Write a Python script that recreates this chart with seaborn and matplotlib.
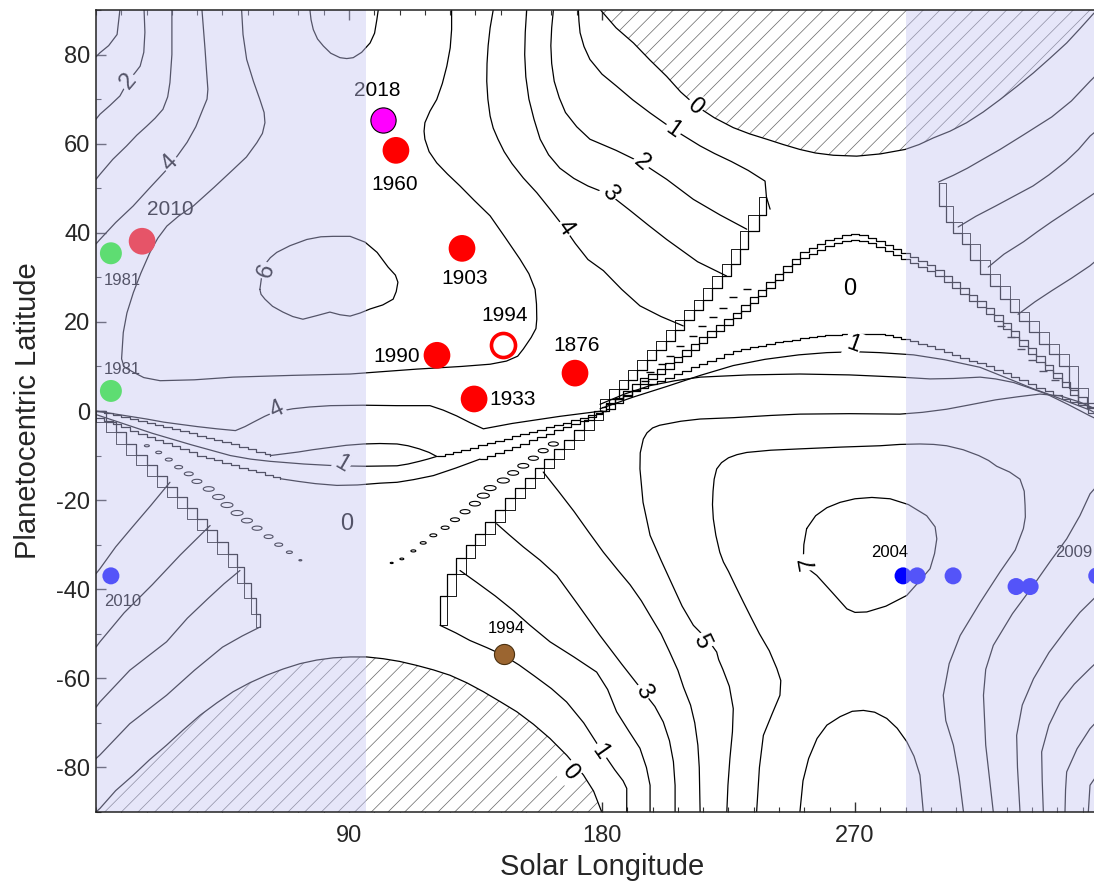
import numpy as np
import pandas as pd
import matplotlib
matplotlib.use("Agg")
import matplotlib.pyplot as plt
from matplotlib.path import Path
import seaborn as sns

# ------------------------------------------------------------------ data
X_TICKS = [90, 180, 270]
Y_TICKS = [-80, -60, -40, -20, 0, 20, 40, 60, 80]
X_LABEL = "Solar Longitude"
Y_LABEL = "Planetocentric Latitude"
SHADE_FROM = [0, 288]
SHADE_TO = [96, 360]

# hatched (no sunlight) regions
NIGHT_N_LS = [179.5, 185, 191.2, 197, 203, 208, 213.7, 220, 226.7, 232.5, 238.6, 244.5, 250.4, 256, 262.3, 270.6,
              279, 287.8, 292.8, 297.9, 303.8, 309.7, 315.6, 321.6, 327.5, 333.5, 339.4, 345.3, 350, 355, 360]
NIGHT_N_LAT = [90, 86, 82.6, 78.8, 75.1, 71.6, 68.4, 65.8, 63.6, 62.2, 61, 59.8, 58.7, 57.9, 57.4, 57.2,
               57.7, 58.7, 59.8, 61.3, 62.8, 64.7, 67.1, 69.9, 72.8, 75.9, 79.2, 82.6, 85.8, 89.3, 90]
NIGHT_S_LS = [0, 1.4, 7, 13.3, 19, 25.1, 31, 37, 43, 48.8, 54.7, 60.7, 66.6, 72.6, 78.5, 84.4, 90.4, 96.3,
              102.2, 108, 114.1, 120, 125.9, 131.9, 137.8, 143.7, 149.7, 155.6, 161.5, 167.5, 173.4, 177, 179.9]
NIGHT_S_LAT = [-90, -89.2, -85.2, -81.7, -78.3, -75, -71.6, -68.3, -65.5, -63, -61, -59.3, -57.9, -56.7, -55.9,
               -55.4, -55.2, -55.2, -55.6, -56.2, -57.1, -58.1, -59.3, -61, -63, -65.2, -67.5, -70.3, -73.5,
               -77.3, -81.7, -85.3, -90]

# contour lines (Ls, latitude)
C1_TL_LS = [0, 1.4, 4.5, 7.5, 8.5]
C1_TL_LAT = [79.5, 80.4, 82, 84.5, 90]
C2_TL_LS = [0, 1.4, 5, 8.5, 11.4, 14, 15.7, 17, 17.4, 17.1]
C2_TL_LAT = [65.5, 66.6, 68.6, 70.7, 74, 76, 77.4, 80.5, 85, 90]
C3_TL_LS = [0, 1.4, 6, 10.9, 14.5, 18, 21, 23.8, 25.5, 26.3, 27, 27]
C3_TL_LAT = [52, 53.1, 56.5, 59.5, 61.9, 63.9, 65.7, 67.7, 70.5, 73.7, 80, 90]
C4_TL_LS = [0, 1.4, 7, 13.2, 19, 25.2, 29, 32.4, 35.5, 38, 39.5, 39.8, 39.3, 38.8, 37.7]
C4_TL_LAT = [37.5, 38.5, 42.3, 46, 50, 54.2, 57.3, 60.3, 63.8, 67.7, 70, 72.2, 76.5, 81.1, 90]
C5_LS = [51.8, 52.3, 53.6, 56, 58.3, 59.8, 60.1, 59.2, 57.2, 53.5, 48.8, 42, 34.6, 29.5, 25.2, 22, 19.2, 16, 13.3,
         11, 9.7, 9.1, 10, 13.3, 17, 22.8, 35, 48.8, 70, 90.4,
         114.1, 130, 140.2, 146, 150, 152, 154.8, 156.5, 156.8, 156.7, 156.2, 154, 150.8, 145.5, 140.2, 134.5,
         129.5, 125, 121.2, 118.5, 117, 116.7, 117, 118.8, 121.2, 123.2, 124.8, 126, 126.5, 126.5]
C5_LAT = [90, 84.5, 78.9, 74, 69.9, 67, 64.7, 62.3, 60.2, 57, 54.2, 50.2, 46, 43.8, 41.5, 38.8, 35.6, 31, 26.6,
          22, 17.6, 11.7, 9.9, 8.7, 7.5, 6.8, 7, 7.6, 8, 8.3,
          9.4, 10, 10.5, 11.2, 12.3, 13.9, 16.5, 18.5, 20.6, 24, 27.3, 30.8, 34.1, 39, 43.8, 47.3,
          50.5, 53.2, 55.7, 58.2, 61, 62.8, 64.7, 67.3, 69.9, 73.5, 77.4, 81.5, 85.6, 90]
C6_LOOP_LS = [58.3, 59, 60.1, 62, 64.3, 69, 75, 80, 84.3, 90.4, 95.7, 100, 103.9, 106.5, 107.4, 106.8, 105.7,
              102, 97.5, 94, 90.4, 86.8, 83.2, 78.5, 73.6, 70, 66.5, 62.8, 60.1, 58.7, 58.3]
C6_LOOP_LAT = [27.3, 30.5, 32.9, 34.4, 35.6, 37.1, 38.5, 39.1, 39.2, 39.2, 37.9, 35.6, 32.3, 30.5, 28.9, 26.8,
               25.1, 23.8, 22.9, 22, 21.3, 21.6, 22.2, 21.4, 20.6, 21.2, 22.2, 23.5, 25.1, 26.2, 27.3]
CTOP_LS = [76.1, 76.5, 77.3, 78.8, 80.9, 83.5, 86.8, 89.2, 91.5, 94.5, 97.5, 99.1, 99.9, 100.4]
CTOP_LAT = [90, 87.8, 85.6, 83.5, 81.9, 80.3, 79.3, 79.1, 79.3, 80.5, 82.6, 84.8, 87.8, 90]
C1_TR_LS = [171.6, 171.8, 172.2, 173.6, 175.7, 180, 185.2, 191, 197.1, 205.4, 214.9, 220, 226, 232, 238, 238.5, 239.8]
C1_TR_LAT = [90, 87.5, 84.9, 81.8, 78.9, 75.6, 72.9, 69.8, 66.9, 63.2, 59.5, 57.8, 56, 54, 51.6, 48, 45.3]
C2_TR_LS = [162.7, 162.1, 161.8, 162.1, 163, 164.8, 167, 171, 175.7, 185, 194.1, 203, 212.5, 222, 231.5]
C2_TR_LAT = [90, 86, 82, 78, 74, 70.3, 67, 63.8, 61, 58.5, 55.7, 52, 47.5, 44, 40.8]
C3_TR_LS = [153.2, 152.7, 152.5, 152.9, 154, 155.8, 158, 161, 165, 170, 175, 182.9, 190, 196.5, 203, 214, 224.3]
C3_TR_LAT = [90, 85, 80, 75, 70, 65.5, 61, 57.5, 54.5, 52.2, 50.5, 48.5, 45, 41.7, 38.5, 33.5, 30.3]
C4_TR_LS = [141.3, 140.2, 139.5, 139.1, 139, 139.4, 140.2, 141.3, 143, 145.2, 148, 152, 156.8, 161.5, 166.2,
            170.5, 175, 180.5, 187, 193.5, 201, 208.9]
C4_TR_LAT = [90, 86, 82, 78, 74, 70, 66.2, 63.5, 61, 58.2, 55.5, 52.3, 49, 45.3, 41.5, 37.6, 34, 31.5, 27.3,
             23.6, 21.2, 19.1]
A_R_LS = [299.7, 305, 310, 315.5, 321.6, 330, 340, 347, 353.6, 360]
A_R_LAT = [51.4, 52.9, 54.5, 56.5, 58.7, 62, 66, 69.6, 74, 78]
B_R_LS = [306.7, 313, 320, 326.5, 333.3, 339, 345, 349.5, 353.6, 360]
B_R_LAT = [41.3, 43.7, 46, 48.2, 50.5, 53, 56, 58.7, 61.7, 65]
C_R_LS = [317.4, 323, 330, 335, 340, 346, 353.6, 360]
C_R_LAT = [32.3, 35.2, 38, 40.3, 42.5, 45, 48.2, 51]
D_R_LS = [328, 334, 340, 347, 353.6, 360]
D_R_LAT = [21.7, 24.5, 27, 29.8, 32.6, 36]
L1_LS = [0, 1.4, 7, 13, 19.5, 26.3]
L1_LAT = [-36.5, -35.4, -30.5, -26, -21.2, -16]
L2_LS = [0, 1.4, 10, 20, 30, 40.6]
L2_LAT = [-53, -51.8, -45.3, -39, -32.3, -25.7]
L3_LS = [0, 1.4, 12, 25.1, 32.5, 40, 45.5, 51.2]
L3_LAT = [-66.5, -65.3, -58.2, -51.8, -46.5, -42, -38.8, -35.8]
L4_LS = [0, 1.4, 12, 25.1, 35, 45, 52, 58.3]
L4_LAT = [-78, -77.2, -70.2, -63.8, -58.2, -53, -50.5, -48.5]
C1_B_LS = [122.4, 128, 133, 139, 144.9, 150.5, 156, 162, 167.4, 173.5, 179.3, 184.5, 187.5, 188.8, 188.8]
C1_B_LAT = [-48.1, -49.8, -51.5, -53.1, -54.8, -57, -59.5, -62.3, -65.3, -70, -75.7, -80.5, -83, -84.7, -90]
C2_B_LS = [129.5, 135.5, 142, 148.5, 154.4, 161.5, 170, 178.1, 182, 185.2, 189.5, 193.5, 195.8, 197.1, 197.1]
C2_B_LAT = [-35.8, -38.5, -41.5, -44.8, -48.1, -51.8, -55.2, -58.6, -62.5, -67.5, -71.8, -75.7, -80, -84, -90]
C3_B_LS = [142.5, 147, 152, 158, 163.9, 171.5, 179.3, 187, 194.7, 198.8, 201.8, 204, 205.4, 206, 206]
C3_B_LAT = [-25.3, -27.8, -30.5, -33.5, -36.9, -43.5, -50.4, -56.8, -63, -66.3, -69.8, -74, -78.7, -84, -90]
C4_B_LS = [159.1, 164.5, 170, 175.3, 180.5, 185.5, 190, 194, 197.1, 201, 204, 207, 209, 211.5, 213, 214.1, 214.6, 214.9]
C4_B_LAT = [-13.7, -18, -22.5, -27.2, -31.7, -35.6, -39, -42.6, -45.9, -50, -54, -58.2, -62, -66, -70, -75, -80, -90]
C5_B_LS = [224.4, 224.8, 225.5, 226.4, 226.7, 225.3, 223, 221.5, 220.8, 219, 217.3, 215, 212.5, 208.5, 205,
           201, 197.1, 194.6, 193.5, 193.6, 194.7, 196, 198, 200.5, 203, 208, 214.9,
           226.7, 240, 250.4, 268, 286, 294, 302.6, 311, 320, 328, 335.8, 343, 350, 355, 360]
C5_B_LAT = [-90, -84, -78, -72, -66.8, -61.8, -58, -55.8, -54.1, -52.5, -51.1, -49.7, -48.1, -43.8, -39,
            -33.5, -27.9, -20.5, -13, -9.4, -6.3, -4.9, -3.8, -3.2, -2.9, -2.3, -1.8,
            -1.5, -1.0, -0.7, -0.6, -0.7, -0.3, 0.4, 1.4, 2.5, 3.2, 3.8, 3.4, 2, 0.6, -1.5]
C6_B_LS = [235, 236, 237.4, 240.5, 243.3, 243.6, 242.2, 239.5, 236, 233, 230.3, 227.5, 225, 223.2, 221.9,
           220.5, 219.6, 219.3, 219.5, 219.9, 220.8, 222.5, 225, 228, 231.5, 240, 250.4, 265,
           278.9, 286, 293.1, 298, 302.6, 308.5, 314, 317.5, 320.4, 325, 328.7, 330.2, 330.5, 330.6, 329.9,
           327, 321.6, 314.5, 307.4, 303.5, 301.4, 302.3, 305, 307, 308.6]
C6_B_LAT = [-90, -80, -72.8, -68, -63.8, -60.5, -57.8, -53.8, -50, -46.3, -42.9, -39.3, -36, -33.9, -31.7,
            -27.9, -24.2, -21, -18, -15.3, -13, -11.6, -10.5, -9.8, -9.3, -8.8, -8.5, -8.1,
            -7.8, -7.5, -7.4, -7.5, -7.8, -8.7, -10, -11.1, -12.4, -13.7, -15.3, -18, -21.2, -23.8, -26.4,
            -31.2, -36.1, -43, -50.4, -56.7, -63.8, -69.5, -75, -82, -90]
C7_LOOP_LS = [252.8, 256, 260, 264.7, 270, 276, 282.5, 289, 295.5, 298.5, 299.1, 298.3, 296.7, 292.5, 288.4,
              281, 274.2, 270, 267.1, 262, 256.4, 253.5, 251.6, 251.8, 252.8]
C7_LOOP_LAT = [-26.4, -23.5, -21.7, -20.5, -19.7, -19.4, -19.7, -21, -23.5, -26, -28.7, -32, -35.4, -38.5, -41.4,
               -43.8, -45.1, -45.2, -44.4, -40.8, -36.9, -35.5, -33.9, -30, -26.4]
C7_DOME_LS = [250.4, 251.5, 253.5, 256.5, 260, 264.7, 269, 273, 277, 281.3, 285, 288.4, 291, 293.1, 294.3]
C7_DOME_LAT = [-90, -83, -78, -73.5, -70.5, -68.6, -67.4, -67.2, -67.6, -69, -71.2, -74.2, -77.5, -81.7, -90]
R1_LS = [319.2, 316.5, 315.7, 316.5, 319.2, 326, 333.5, 339.5, 345.3, 350, 353.6, 360]
R1_LAT = [-90, -75, -63.8, -58, -52.6, -45.5, -39.1, -33.7, -28.7, -23.5, -18.6, -14]
R2_LS = [328.7, 327.8, 327.5, 329.5, 333.5, 339, 345.3, 350, 355, 360]
R2_LAT = [-90, -80, -72.8, -66, -60.1, -54.2, -48.9, -45.2, -42.1, -39]
R3_LS = [337, 336.6, 336.4, 339, 343, 348, 353.6, 360]
R3_LAT = [-90, -83, -76.5, -70.5, -65.3, -61.3, -57.8, -54]
R4_LS = [344.7, 344.9, 345.3, 349, 353.6, 360]
R4_LAT = [-90, -85, -81, -75.8, -71.3, -67]
R5_LS = [353, 353.6, 356, 358, 360]
R5_LAT = [-90, -84, -81.8, -80, -78.5]
C4_EQ_LS = [0, 6, 12, 18, 24.1, 30, 36, 43, 49.6, 53, 56, 60, 63.2, 70, 76, 83.4, 95, 107.1, 118.8, 123.5,
            128.3, 133, 137.8, 148, 165, 180]
C4_EQ_LAT = [0, -0.6, -1.2, -1.8, -2.5, -3, -3.5, -4, -4.4, -3.5, -2.5, -1.2, -0.3, 0.5, 0.9, 1.2, 1.3, 1.2,
             1.2, 0.2, -1.1, -2.6, -4, -2.8, -1.2, 0]
S1_SMOOTH_LS = [62, 67, 72, 77, 83, 89, 95.2, 101, 107.1, 111, 115, 118.5, 121.2]
S1_SMOOTH_LAT = [-10, -9.6, -9.2, -8.7, -8.2, -7.7, -7.4, -7.3, -7.4, -7.8, -8.5, -9.3, -10.2]
S2_LS = [0, 10, 20, 34, 47.8, 55, 62, 74, 85.7, 96, 107.1, 111, 115, 118, 121.2]
S2_LAT = [-0.8, -2.9, -5, -7.6, -10, -10.8, -11.3, -11.9, -12.3, -12.4, -12.3, -11.9, -11.3, -10.8, -10.2]
S3_SMOOTH_LS = [65.6, 72, 78, 85.7, 93, 101, 107.1, 113, 120, 128, 136.6]
S3_SMOOTH_LAT = [-15.2, -15.8, -16.3, -16.7, -16.6, -16.2, -16, -15.4, -14.5, -12.8, -10.8]
U1B_LS = [179.3, 191, 203, 215, 226.7, 238, 250, 260, 270, 278.9, 290.8, 302, 314.5, 326.4, 333, 340, 347, 353.6, 360]
U1B_LAT = [0.5, 3.1, 5.5, 8, 10.2, 11.6, 12.6, 13.1, 13.3, 13.1, 12.6, 11.5, 9.8, 6.8, 5.1, 3.5, 1.8, 0.2, -2]
U2_LS = [179.3, 188, 197.1, 206, 214.9, 232, 250.4, 268, 286, 296.7, 305, 314.5, 320, 326.4, 332, 338.2, 346, 353.6, 360]
U2_LAT = [1.5, 3.8, 5.7, 6.8, 7.6, 8.1, 8.3, 8.1, 7.6, 7.2, 7.3, 7.6, 7.2, 6.4, 5.2, 3.8, 1.4, -1.1, -3]

# stair-stepped contour segments (ring shadow edges)
ST_L_LS = [0, 3.6, 7.2, 10.8, 14.4, 18, 21.6, 25.2, 28.8, 32.4, 36, 39.6, 43.2, 46.8, 50, 52.5, 55, 57, 58.5]
ST_L_LAT = [0, -2.4, -4.8, -7.3, -9.8, -12.2, -14.6, -17, -19.4, -21.8, -24.3, -26.8, -29.3, -32, -35, -38.5, -42, -45.5, -48.5]
ST_M_LS = [180.5, 177, 173.5, 170, 166.5, 163, 159.5, 156, 152.5, 149, 145.5, 142, 138.5, 135, 131.5, 128, 125, 122.4]
ST_M_LAT = [0, -2, -4.2, -6.4, -8.6, -10.7, -12.8, -15, -17.2, -19.6, -22.2, -25, -27.5, -30, -33, -36.5, -41.5, -48]
ST_U_LS = [179.3, 182.6, 186, 189.3, 192.6, 196, 199.3, 202.6, 206, 209.3, 212.6, 216, 219.3, 222.6, 226, 229, 232, 236, 238.5]
ST_U_LAT = [0, 2.6, 4.9, 7, 9.2, 11.5, 13.7, 15.8, 18.2, 20.5, 22.6, 25, 27.5, 30.2, 33, 36.3, 40.4, 44, 48]
ST_R_LS = [360, 356.5, 353, 349.5, 346, 342.5, 339, 335.5, 332, 328.5, 325, 321.5, 318, 314.5, 311, 308, 305, 302.5, 300]
ST_R_LAT = [-2, -0.5, 1.8, 5.2, 10, 12.8, 15, 17.8, 20.2, 22.3, 25.2, 28, 30.8, 34, 37.5, 40, 42.5, 46, 51.2]
S1_STAIR_LS = [0, 3, 6, 9, 12, 15, 18, 21, 24, 27, 30, 33, 36, 39, 42, 45, 48, 51, 54, 57, 60, 62]
S1_STAIR_LAT = [0, -0.5, -0.9, -1.4, -1.8, -2.3, -2.7, -3.2, -3.6, -4.1, -4.5, -5.0, -5.5, -6.0, -6.5, -7.0,
                -7.5, -8.0, -8.6, -9.1, -9.6, -10.0]
S3_STAIR_LS = [0, 3, 6, 9, 12, 15, 18, 21, 24, 27, 30, 33, 36, 39, 42, 45, 48, 51, 54, 57, 60, 63, 65.6]
S3_STAIR_LAT = [-1.6, -2.3, -3, -3.7, -4.4, -5.1, -5.8, -6.5, -7.2, -7.9, -8.6, -9.3, -10, -10.6, -11.1, -11.7,
                -12.2, -12.8, -13.3, -13.8, -14.3, -14.8, -15.2]
S4_STAIR_LS = [121.2, 124, 127, 130, 133, 136, 139, 142, 145, 148, 151, 154, 157, 160, 163, 166, 169, 172, 175, 178, 180]
S4_STAIR_LAT = [-10.2, -9.7, -9.2, -8.7, -8.2, -7.7, -7.2, -6.7, -6.2, -5.7, -5.2, -4.7, -4.2, -3.6, -3.1, -2.6,
                -2.1, -1.6, -1, -0.5, 0]
S5_STAIR_LS = [136.6, 139, 142, 145, 148, 151, 154, 157, 160, 163, 166, 169, 172, 175, 178, 180]
S5_STAIR_LAT = [-10.8, -10.1, -9.4, -8.7, -8, -7.3, -6.5, -5.8, -5.1, -4.3, -3.6, -2.9, -2.2, -1.4, -0.7, 0]
BAND_LS = [180, 183, 186, 189, 192, 195, 198, 201, 204, 207, 210, 213, 216, 219, 222, 225, 228, 231, 234, 237,
           240, 243, 246, 249, 252, 255, 258, 261, 264, 267, 270, 273, 276, 279, 282, 285, 288, 291, 294, 297,
           300, 303, 306, 309, 312, 315, 318, 321, 324, 327, 330, 333, 336, 339, 342, 345, 348, 351, 354, 357, 360]
U0A_LAT = [0, 1.5, 3, 4.6, 6.1, 7.3, 8.4, 9.5, 10.7, 12.2,
           13.7, 15.1, 16.6, 17.9, 19.3, 20.6, 22.1, 23.8, 25.5, 27.2,
           28.9, 30.8, 32.6, 34.2, 35.6, 36.6, 37.5, 38.3, 38.9, 39.4,
           39.7, 39.5, 38.9, 38.2, 37.2, 36.4, 35.5, 34.6, 33.7, 32.8,
           31.6, 30.3, 29, 27.6, 26.1, 24.6, 23.1, 21.6, 19.8, 18,
           16, 14.2, 12.3, 10.4, 8.6, 6.6, 4.8, 3.2, 1.7, 0.3, -1]
U0B_LAT = [0, 0.5, 1.8, 3.3, 4.8, 6.0, 7.1, 8.2, 9.4, 10.9,
           12.4, 13.8, 15.3, 16.6, 18.0, 19.3, 20.8, 22.5, 24.2, 25.9,
           27.6, 29.5, 31.3, 32.9, 34.3, 35.3, 36.2, 37.0, 37.6, 38.1,
           38.4, 38.2, 37.6, 36.9, 35.9, 35.1, 34.2, 33.3, 32.4, 31.5,
           30.3, 29.0, 27.7, 26.3, 24.8, 23.3, 21.8, 20.3, 18.5, 16.7,
           14.7, 12.9, 11.0, 9.1, 7.3, 5.3, 3.5, 1.9, 0.6, -0.5, -1]
U1A_LAT = [0.8, 1.8, 2.7, 3.6, 4.4, 5.2, 6.0, 6.8, 7.5, 8.2,
           9.0, 9.8, 10.6, 11.3, 12.0, 12.8, 13.4, 13.9, 14.3, 14.7,
           15.1, 15.4, 15.7, 16.0, 16.3, 16.5, 16.8, 17.0, 17.1, 17.2,
           17.3, 17.3, 17.3, 17.2, 17.0, 16.6, 16.1, 15.7, 15.1, 14.5,
           13.9, 13.2, 12.6, 12.0, 11.3, 10.7, 10.0, 9.2, 8.5, 7.7,
           6.9, 6.1, 5.2, 4.4, 3.6, 2.7, 2.0, 1.4, 0.9, 0.2, -0.5]

# tiny closed contours along the shadow edge
ELL_L_LS = [18.1, 22.3, 25.9, 29.4, 33.0, 35.9, 40.1, 43.6, 46.6, 50.2, 53.7, 57.3, 61.4, 65.0, 68.8, 72.7]
ELL_L_LAT = [-7.8, -9.3, -10.9, -12.6, -14.1, -15.8, -17.5, -19.3, -21.1, -22.9, -24.6, -26.3, -28.2, -30.0, -31.7, -33.5]
ELL_L_W = [5, 6, 7, 8, 9, 10, 11, 12, 12, 12, 11, 10, 9, 8, 6, 3]
ELL_M_LS = [162.7, 159.1, 155.6, 152.0, 148.4, 144.9, 140.2, 137.8, 134.8, 131.3, 127.7, 124.2, 120.0, 116.4, 112.9, 108.8, 105.2]
ELL_M_LAT = [-7.4, -8.9, -10.6, -12.3, -13.9, -15.6, -17.3, -19.0, -20.8, -22.6, -24.4, -26.2, -27.9, -29.6, -31.4, -33.2, -34.1]
ELL_M_W = [10, 10, 10, 11, 11, 12, 12, 12, 11, 10, 9, 8, 7, 6, 5, 4, 3]
DASH_LS = [195.3, 197.1, 201.2, 204.2, 207.8, 212.5, 215.5, 219.6, 223.1, 226.7, 231.5, 322, 325.5, 329, 333, 337, 341]
DASH_LAT = [6.8, 8.7, 10.5, 12.4, 14.6, 16.9, 19.1, 21.0, 23.2, 25.5, 27.3, 19, 16.5, 14, 11.5, 9, 7]

# contour labels
CL_TEXT = ["2", "4", "6", "4", "1", "0", "0", "1", "2", "3", "4", "0", "1", "5", "3", "1", "0", "7"]
CL_LS = [11.4, 26.3, 60.7, 64.4, 87.5, 89.2, 213.1, 205.4, 194.1, 182.9, 167.0, 268.2, 269.4, 215.4, 194.7, 179.3, 168.6, 253.4]
CL_LAT = [74, 55.7, 31.4, 0.3, -11.9, -25.3, 68.4, 63.2, 55.7, 49.0, 41.0, 27.3, 15.0, -51.8, -63, -76.5, -81, -33.9]
CL_ROT = [50, 45, 70, 25, -30, 0, -40, -35, -40, -50, -55, 0, -20, -65, -60, -55, -50, 100]
CL_BOX = [1, 1, 1, 1, 1, 0, 1, 1, 1, 1, 1, 0, 1, 1, 1, 1, 1, 1]

# observations
RED_LS = [106.7, 130.2, 121.3, 134.5, 170.4, 16.4]
RED_LAT = [58.5, 36.5, 12.5, 2.7, 8.5, 38.1]
MAGENTA_LS = [102.1]
MAGENTA_LAT = [65.2]
OPEN_LS = [144.8]
OPEN_LAT = [14.8]
GREEN_LS = [5.3, 5.3]
GREEN_LAT = [35.4, 4.5]
BLUE_LS = [5.3, 287.1, 292.1, 304.9, 327.3, 332.3, 356.0]
BLUE_LAT = [-37, -37, -37, -37, -39.4, -39.4, -37]
BROWN_LS = [145.1]
BROWN_LAT = [-54.5]
BIG_LAB_TEXT = ["2018", "1960", "1903", "1990", "1994", "1933", "1876", "2010"]
BIG_LAB_LS = [100.0, 106.3, 131.3, 107.0, 145.5, 148.2, 170.8, 26.3]
BIG_LAB_LAT = [71.9, 50.8, 29.7, 12.2, 21.5, 2.5, 14.8, 45.3]
SMALL_LAB_TEXT = ["1981", "1981", "2010", "1994", "2004", "2009"]
SMALL_LAB_LS = [9.4, 9.4, 9.4, 146.1, 282.5, 347.7]
SMALL_LAB_LAT = [29.2, 9.4, -42.8, -48.9, -31.8, -31.8]

# ------------------------------------------------------------------ style
sns.set_style("ticks")
plt.rcParams["font.family"] = ["Liberation Sans", "DejaVu Sans"]
plt.rcParams["hatch.linewidth"] = 0.5
plt.rcParams["hatch.color"] = "#666666"

fig = plt.figure(figsize=(10.94, 8.83), dpi=100)
ax = fig.add_axes([96 / 1094, 71 / 883, 1012 / 1094, 802 / 883])
ax.set_xlim(0, 360)
ax.set_ylim(-90, 90)

LW = 0.9


def long_table(items):
    rows = []
    for name, xs, ys in items:
        for i, (x, y) in enumerate(zip(xs, ys)):
            rows.append((name, i, x, y))
    return pd.DataFrame(rows, columns=["line", "order", "ls", "lat"])


# hatched regions
ax.fill_between(NIGHT_N_LS, NIGHT_N_LAT, 90, facecolor="white", edgecolor="#666666",
                hatch="//", linewidth=0, zorder=1.5)
ax.fill_between(NIGHT_S_LS, -90, NIGHT_S_LAT, facecolor="white", edgecolor="#666666",
                hatch="//", linewidth=0, zorder=1.5)

smooth = [
    ("n0", NIGHT_N_LS, NIGHT_N_LAT), ("s0", NIGHT_S_LS, NIGHT_S_LAT),
    ("c1tl", C1_TL_LS, C1_TL_LAT), ("c2tl", C2_TL_LS, C2_TL_LAT), ("c3tl", C3_TL_LS, C3_TL_LAT),
    ("c4tl", C4_TL_LS, C4_TL_LAT), ("c5", C5_LS, C5_LAT), ("c6", C6_LOOP_LS, C6_LOOP_LAT),
    ("ctop", CTOP_LS, CTOP_LAT), ("c1tr", C1_TR_LS, C1_TR_LAT), ("c2tr", C2_TR_LS, C2_TR_LAT),
    ("c3tr", C3_TR_LS, C3_TR_LAT), ("c4tr", C4_TR_LS, C4_TR_LAT), ("ar", A_R_LS, A_R_LAT),
    ("br", B_R_LS, B_R_LAT), ("cr", C_R_LS, C_R_LAT), ("dr", D_R_LS, D_R_LAT),
    ("l1", L1_LS, L1_LAT), ("l2", L2_LS, L2_LAT), ("l3", L3_LS, L3_LAT), ("l4", L4_LS, L4_LAT),
    ("c1b", C1_B_LS, C1_B_LAT), ("c2b", C2_B_LS, C2_B_LAT), ("c3b", C3_B_LS, C3_B_LAT),
    ("c4b", C4_B_LS, C4_B_LAT), ("c5b", C5_B_LS, C5_B_LAT), ("c6b", C6_B_LS, C6_B_LAT),
    ("c7l", C7_LOOP_LS, C7_LOOP_LAT), ("c7d", C7_DOME_LS, C7_DOME_LAT),
    ("r1", R1_LS, R1_LAT), ("r2", R2_LS, R2_LAT), ("r3", R3_LS, R3_LAT), ("r4", R4_LS, R4_LAT),
    ("r5", R5_LS, R5_LAT), ("c4eq", C4_EQ_LS, C4_EQ_LAT), ("s1s", S1_SMOOTH_LS, S1_SMOOTH_LAT),
    ("s2", S2_LS, S2_LAT), ("s3s", S3_SMOOTH_LS, S3_SMOOTH_LAT), ("u1b", U1B_LS, U1B_LAT),
    ("u2", U2_LS, U2_LAT),
]
sns.lineplot(data=long_table(smooth), x="ls", y="lat", units="line", estimator=None, sort=False,
             color="black", linewidth=LW, ax=ax, zorder=2)

stairs_post = [
    ("stl", ST_L_LS, ST_L_LAT), ("stm", ST_M_LS, ST_M_LAT), ("stu", ST_U_LS, ST_U_LAT),
    ("str", ST_R_LS, ST_R_LAT), ("s1st", S1_STAIR_LS, S1_STAIR_LAT), ("s3st", S3_STAIR_LS, S3_STAIR_LAT),
    ("s4st", S4_STAIR_LS, S4_STAIR_LAT), ("s5st", S5_STAIR_LS, S5_STAIR_LAT),
]
sns.lineplot(data=long_table(stairs_post), x="ls", y="lat", units="line", estimator=None, sort=False,
             color="black", linewidth=LW, drawstyle="steps-post", ax=ax, zorder=2)
# doubled edges of the shadow stairs
for xs, ys in [(ST_L_LS, ST_L_LAT), (ST_M_LS, ST_M_LAT), (ST_U_LS, ST_U_LAT), (ST_R_LS, ST_R_LAT)]:
    ax.plot(xs, ys, drawstyle="steps-pre", color="black", lw=LW * 0.7, zorder=2)

band = [("u0a", BAND_LS, U0A_LAT), ("u0b", BAND_LS, U0B_LAT), ("u1a", BAND_LS, U1A_LAT)]
sns.lineplot(data=long_table(band), x="ls", y="lat", units="line", estimator=None, sort=False,
             color="black", linewidth=LW, drawstyle="steps-mid", ax=ax, zorder=2)

# tiny closed contours
t = np.linspace(0, 2 * np.pi, 40)
ellipse = Path(np.column_stack([np.cos(t), 0.42 * np.sin(t)]))
ax.scatter(ELL_L_LS, ELL_L_LAT, s=(np.array(ELL_L_W) * 0.72) ** 2, marker=ellipse,
           facecolors="none", edgecolors="black", linewidths=0.8, zorder=2)
ax.scatter(ELL_M_LS, ELL_M_LAT, s=(np.array(ELL_M_W) * 0.72) ** 2, marker=ellipse,
           facecolors="none", edgecolors="black", linewidths=0.8, zorder=2)
ax.scatter(DASH_LS, DASH_LAT, s=36, marker="_", color="black", linewidths=1.0, zorder=2)

# contour labels
for txt, x, y, r, b in zip(CL_TEXT, CL_LS, CL_LAT, CL_ROT, CL_BOX):
    kw = {}
    if b:
        kw["bbox"] = dict(boxstyle="square,pad=0.08", fc="white", ec="none")
    ax.text(x, y, txt, rotation=r, fontsize=17, ha="center", va="center",
            rotation_mode="anchor", color="black", zorder=3, **kw)

# observation markers
sns.scatterplot(x=RED_LS, y=RED_LAT, color="#FF0000", s=370, edgecolor="none", ax=ax, zorder=5)
sns.scatterplot(x=MAGENTA_LS, y=MAGENTA_LAT, color="#FF00FF", s=330, edgecolor="black",
                linewidth=0.8, ax=ax, zorder=5)
ax.scatter(OPEN_LS, OPEN_LAT, s=300, facecolors="white", edgecolors="#FF0000", linewidths=2.6, zorder=5)
sns.scatterplot(x=GREEN_LS, y=GREEN_LAT, color="#11F011", s=250, edgecolor="none", ax=ax, zorder=5)
sns.scatterplot(x=BLUE_LS, y=BLUE_LAT, color="#0000FF", s=150, edgecolor="none", ax=ax, zorder=5)
sns.scatterplot(x=BROWN_LS, y=BROWN_LAT, color="#9B6530", s=210, edgecolor="#4a3010",
                linewidth=0.8, ax=ax, zorder=5)

for txt, x, y in zip(BIG_LAB_TEXT, BIG_LAB_LS, BIG_LAB_LAT):
    ax.text(x, y, txt, fontsize=15, ha="center", va="center", color="black", zorder=6)
for txt, x, y in zip(SMALL_LAB_TEXT, SMALL_LAB_LS, SMALL_LAB_LAT):
    ax.text(x, y, txt, fontsize=12, ha="center", va="center", color="black", zorder=6)

# translucent lavender season bands over everything
for a, b in zip(SHADE_FROM, SHADE_TO):
    ax.axvspan(a, b, facecolor=(197 / 255, 197 / 255, 243 / 255), alpha=0.43, lw=0, zorder=10)

# axes / ticks
ax.set_xticks(X_TICKS)
ax.set_xticklabels([str(v) for v in X_TICKS])
ax.set_yticks(Y_TICKS)
ax.set_yticklabels([str(v) for v in Y_TICKS])
ax.set_xticks(np.arange(0, 361, 9), minor=True)
ax.set_yticks(np.arange(-90, 91, 10), minor=True)
ax.tick_params(which="both", direction="in", top=True, right=True, color="#333333")
ax.tick_params(which="major", length=7, width=1.0)
ax.tick_params(which="minor", length=3.5, width=0.8)
ax.tick_params(axis="x", which="major", labelsize=17, pad=9)
ax.tick_params(axis="y", which="major", labelsize=17, pad=4)
for sp in ax.spines.values():
    sp.set_linewidth(1.1)
    sp.set_color("#222222")
    sp.set_zorder(12)
ax.set_xlabel(X_LABEL, fontsize=21, labelpad=5)
ax.set_ylabel(Y_LABEL, fontsize=21, labelpad=10)

fig.savefig("out.png", dpi=100)
